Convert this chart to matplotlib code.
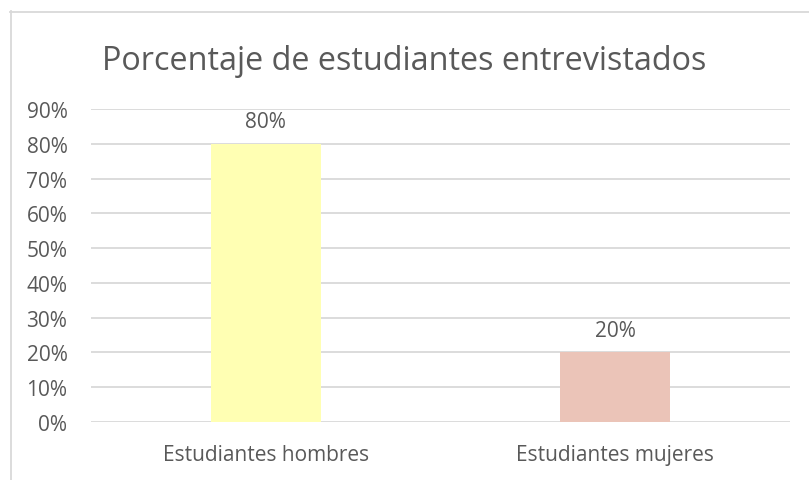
import matplotlib.pyplot as plt
from matplotlib.lines import Line2D
from matplotlib.ticker import PercentFormatter

categories = ["Estudiantes hombres", "Estudiantes mujeres"]
values = [0.80, 0.20]
bar_colors = ["#FFFFB3", "#EBC4B8"]
yticks = [0.0, 0.1, 0.2, 0.3, 0.4, 0.5, 0.6, 0.7, 0.8, 0.9]

text_color = "#595959"
grid_color = "#D9D9D9"
plt.rcParams["font.family"] = ["Open Sans", "DejaVu Sans"]

W, H = 809, 481
fig = plt.figure(figsize=(W / 100, H / 100), dpi=100)
ax = fig.add_axes([91 / W, (H - 423) / H, (790 - 91) / W, (423 - 110) / H])

x = range(len(categories))
bars = ax.bar(x, values, width=0.315, color=bar_colors, zorder=3)

ax.set_xlim(-0.5, len(categories) - 0.5)
ax.set_ylim(0, 0.9)
ax.set_yticks(yticks)
ax.yaxis.set_major_formatter(PercentFormatter(1.0, decimals=0))
ax.set_xticks(list(x))
ax.set_xticklabels(categories)
ax.grid(axis="y", color=grid_color, linewidth=1.3, zorder=0)
ax.tick_params(length=0, labelsize=15, colors=text_color)
ax.tick_params(axis="x", pad=16)
ax.tick_params(axis="y", pad=17)
for s in ax.spines.values():
    s.set_visible(False)

for b, v in zip(bars, values):
    ax.annotate(f"{v:.0%}", (b.get_x() + b.get_width() / 2, v),
                xytext=(0, 12), textcoords="offset points",
                ha="center", va="baseline", fontsize=15, color=text_color)

fig.text(0.5, (H - 70) / H, "Porcentaje de estudiantes entrevistados",
         ha="center", va="baseline", fontsize=23.3, color=text_color)

# chart border (only left and top visible in the crop)
fig.add_artist(Line2D([10.5 / W, 10.5 / W], [0, (H - 12) / H], color=grid_color, linewidth=1.3))
fig.add_artist(Line2D([10 / W, 1], [(H - 12.5) / H, (H - 12.5) / H], color=grid_color, linewidth=1.3))

fig.savefig("out.png", dpi=100)
